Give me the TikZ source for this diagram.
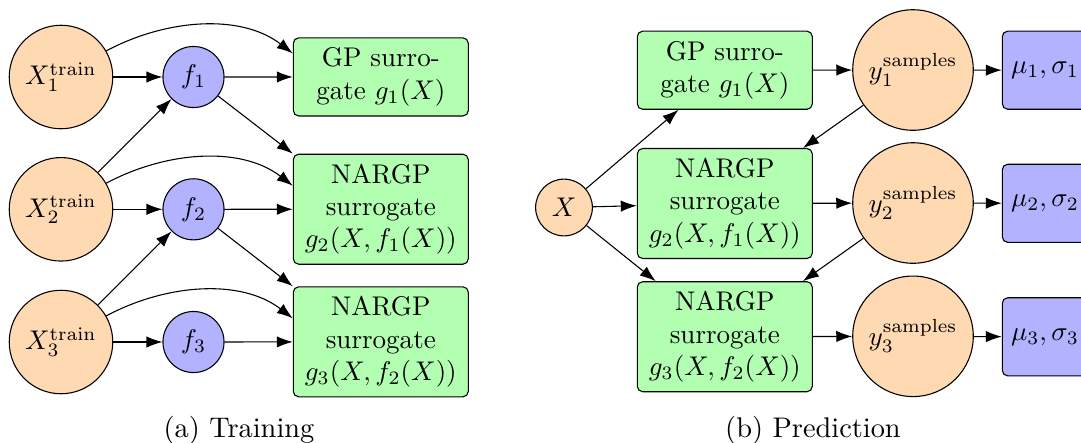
\documentclass[tikz,border=0pt]{standalone}
\usetikzlibrary{arrows.meta,calc}
\begin{document}
\begin{tikzpicture}[x=0.37pt,y=-0.37pt,
  inp/.style={circle,draw,fill=orange!30,inner sep=0pt},
  fn/.style={circle,draw,fill=blue!30,minimum size=22.6pt,inner sep=0pt},
  sur/.style={rectangle,rounded corners=2pt,draw,fill=green!30,minimum width=64.75pt,align=center,inner sep=0pt},
  res/.style={rectangle,rounded corners=2pt,draw,fill=blue!30,minimum width=31.6pt,minimum height=28.9pt,inner sep=0pt},
  arr/.style={-{Latex[length=5.9pt,width=4.2pt]}},
  captext/.style={font=\fontsize{10.5}{12.6}\selectfont,anchor=base}
]
\clip (0,0) rectangle (1081,442);
% ---------- (a) Training ----------
\node[inp,minimum size=38.3pt] (X1) at (61,77) {$X_1^{\mathrm{train}}$};
\node[inp,minimum size=38.3pt] (X2) at (61,209.3) {$X_2^{\mathrm{train}}$};
\node[inp,minimum size=38.3pt] (X3) at (61,342) {$X_3^{\mathrm{train}}$};
\node[fn] (f1) at (193.5,77) {$f_1$};
\node[fn] (f2) at (193.5,209.3) {$f_2$};
\node[fn] (f3) at (193.5,342) {$f_3$};
\node[sur,minimum height=28.9pt] (g1) at (380.8,76.9) {GP surro-\\gate $g_1(X)$};
\node[sur,minimum height=40.7pt] (g2) at (380.8,209.2) {NARGP\\surrogate\\$g_2(X,f_1(X))$};
\node[sur,minimum height=40.7pt] (g3) at (380.8,341.8) {NARGP\\surrogate\\$g_3(X,f_2(X))$};
\draw[arr] (X1) -- (f1);
\draw[arr] (X2) -- (f2);
\draw[arr] (X3) -- (f3);
\draw[arr] (f1) -- (g1);
\draw[arr] (f2) -- (g2);
\draw[arr] (f3) -- (g3);
\draw[arr] (X2) -- (f1);
\draw[arr] (X3) -- (f2);
\draw[arr] (f1) -- (g2.north west);
\draw[arr] (f2) -- (g3.north west);
\draw[arr] (X1.30) .. controls +(60,-32) and +(-52,-40) .. ($(g1.west)+(0,-23.5)$);
\draw[arr] (X2.30) .. controls +(60,-32) and +(-52,-40) .. ($(g2.west)+(0,-23.5)$);
\draw[arr] (X3.30) .. controls +(60,-32) and +(-52,-40) .. ($(g3.west)+(0,-23.5)$);
\node[captext] (capa) at (239,437) {(a) Training};
% ---------- (b) Prediction ----------
\node[inp,minimum size=21pt] (X) at (564,207.5) {$X$};
\node[sur,minimum height=28.9pt] (h1) at (724.8,70.2) {GP surro-\\gate $g_1(X)$};
\node[sur,minimum height=40.7pt] (h2) at (724.8,203.5) {NARGP\\surrogate\\$g_2(X,f_1(X))$};
\node[sur,minimum height=40.7pt] (h3) at (724.8,336.7) {NARGP\\surrogate\\$g_3(X,f_2(X))$};
\node[inp,minimum size=44.6pt] (y1) at (913,70) {$y_1^{\mathrm{samples}}$};
\node[inp,minimum size=44.6pt] (y2) at (913,203) {$y_2^{\mathrm{samples}}$};
\node[inp,minimum size=44.6pt] (y3) at (913,336.3) {$y_3^{\mathrm{samples}}$};
\node[res] (m1) at (1045,70.2) {$\mu_1,\sigma_1$};
\node[res] (m2) at (1045,203.3) {$\mu_2,\sigma_2$};
\node[res] (m3) at (1045,336.8) {$\mu_3,\sigma_3$};
\draw[arr] (X) -- (h1);
\draw[arr] (X) -- (h2);
\draw[arr] (X) -- (h3);
\draw[arr] (h1) -- (y1);
\draw[arr] (h2) -- (y2);
\draw[arr] (h3) -- (y3);
\draw[arr] (y1) -- (m1);
\draw[arr] (y2) -- (m2);
\draw[arr] (y3) -- (m3);
\draw[arr] (y1) -- (h2);
\draw[arr] (y2) -- (h3);
\node[captext] (capb) at (813,437) {(b) Prediction};
\end{tikzpicture}
\end{document}
